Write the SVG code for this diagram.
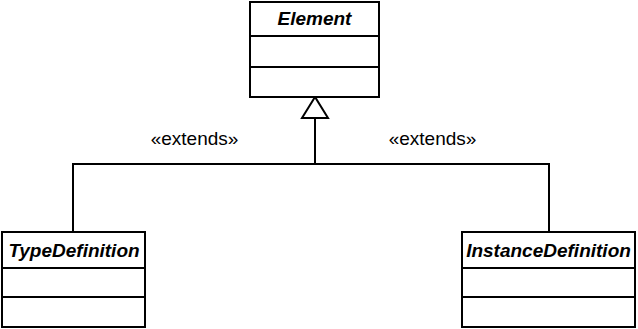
<svg xmlns="http://www.w3.org/2000/svg" width="638" height="329" viewBox="0 0 638 329">
  <style>
    .box { fill: #ffffff; stroke: #000000; stroke-width: 2; }
    .div { stroke: #000000; stroke-width: 2; }
    .name { font-family: "Liberation Sans", Arial, sans-serif; font-size: 19px; font-weight: bold; font-style: italic; text-anchor: middle; fill: #000000; }
    .lbl { font-family: "Liberation Sans", Arial, sans-serif; font-size: 19px; text-anchor: middle; fill: #000000; }
    .conn { fill: none; stroke: #000000; stroke-width: 2; }
  </style>
  <rect width="638" height="329" fill="#ffffff"/>

  <!-- generalization connectors -->
  <g id="connectors">
    <polyline class="conn" points="73,232 73,164 549,164 549,232"/>
    <line class="conn" x1="315" y1="164" x2="315" y2="118"/>
    <polygon points="315,97 302,118 328,118" fill="#ffffff" stroke="#000000" stroke-width="2" stroke-linejoin="miter"/>
    <text class="lbl" x="194.5" y="145">«extends»</text>
    <text class="lbl" x="432.5" y="145">«extends»</text>
  </g>

  <g id="Element">
    <rect class="box" x="250" y="2" width="129" height="95"/>
    <line class="div" x1="250" y1="36" x2="379" y2="36"/>
    <line class="div" x1="250" y1="67" x2="379" y2="67"/>
    <text class="name" x="314.5" y="25">Element</text>
  </g>

  <g id="TypeDefinition">
    <rect class="box" x="2" y="232" width="143" height="95"/>
    <line class="div" x1="2" y1="268" x2="145" y2="268"/>
    <line class="div" x1="2" y1="297" x2="145" y2="297"/>
    <text class="name" x="74" y="257">TypeDefinition</text>
  </g>

  <g id="InstanceDefinition">
    <rect class="box" x="462" y="232" width="173" height="95"/>
    <line class="div" x1="462" y1="268" x2="635" y2="268"/>
    <line class="div" x1="462" y1="297" x2="635" y2="297"/>
    <text class="name" x="548.5" y="257">InstanceDefinition</text>
  </g>
</svg>
